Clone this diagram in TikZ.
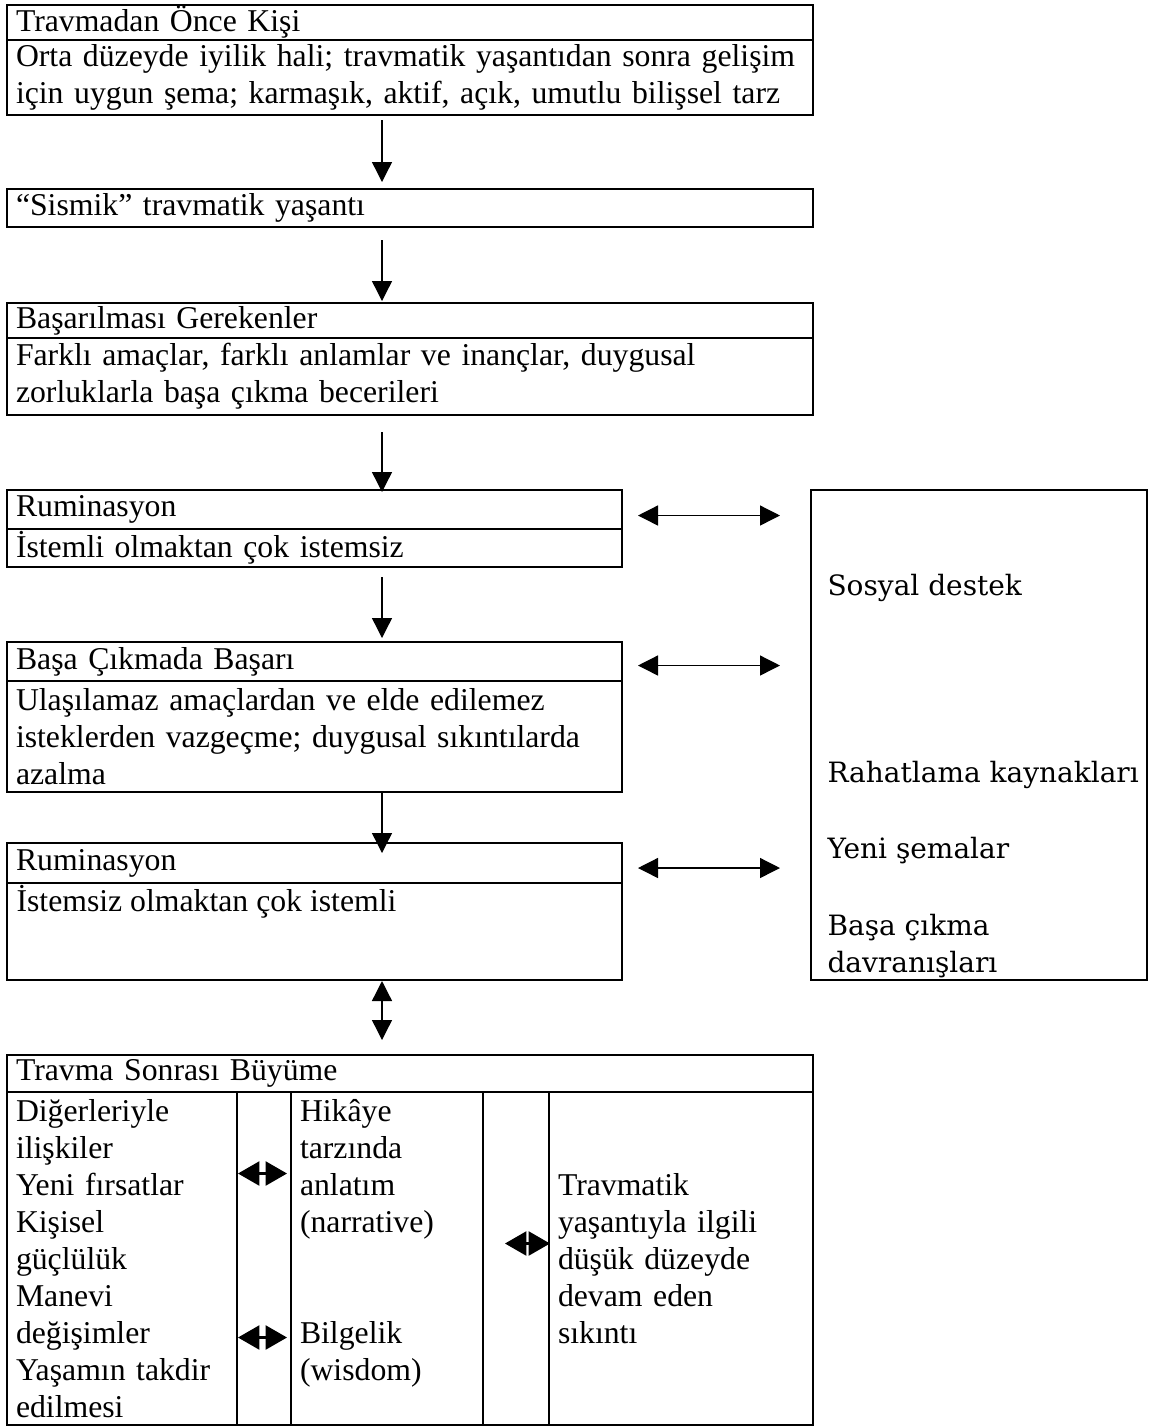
\documentclass[tikz,border=0pt]{standalone}
\usepackage{fontspec}
\setmainfont{Liberation Serif}
\newfontfamily\sidefont{DejaVu Serif}
\usetikzlibrary{arrows.meta,calc}

\newcommand{\pxu}{0.375pt}

\begin{document}
\begin{tikzpicture}[x=0.375pt,y=-0.375pt,
		font=\fontsize{11.9}{13.9}\selectfont,
		cell/.style={draw,line width=0.65pt,rectangle,anchor=north west,outer sep=0pt,
			inner xsep=9*\pxu,inner ysep=0pt,align=left},
		wide/.style={minimum width=806*\pxu,text width=788*\pxu},
		narrow/.style={minimum width=615*\pxu,text width=597*\pxu},
		flow/.style={-{Triangle[length=7.5pt,width=7.5pt]},line width=0.5pt},
		twoway/.style={{Triangle[length=7.5pt,width=7.5pt]}-{Triangle[length=7.5pt,width=7.5pt]},line width=0.5pt},
		stub/.style={{Triangle[length=8pt,width=9pt]}-{Triangle[length=8pt,width=9pt]},line width=0.8pt},
		sidetext/.style={anchor=west,inner sep=0pt,font=\sidefont\fontsize{10.5}{13}\selectfont}]
		
		\useasboundingbox (0,0) rectangle (1157,1427);
		\coordinate (axis) at (382,0);
		
		% main column
		\node[cell,wide,minimum height=35*\pxu] (pre) at (7,5) {Travmadan Önce Kişi};
		\node[cell,wide,minimum height=75*\pxu] (preb) at (pre.south west) {Orta düzeyde iyilik hali; travmatik yaşantıdan sonra gelişim\\için uygun şema; karmaşık, aktif, açık, umutlu bilişsel tarz};
		
		\node[cell,wide,minimum height=38*\pxu] (quake) at (7,189) {“Sismik” travmatik yaşantı};
		
		\node[cell,wide,minimum height=35*\pxu] (task) at (7,303) {Başarılması Gerekenler};
		\node[cell,wide,minimum height=77*\pxu] (taskb) at (task.south west) {Farklı amaçlar, farklı anlamlar ve inançlar, duygusal\\zorluklarla başa çıkma becerileri};
		
		\node[cell,narrow,minimum height=39*\pxu] (rum) at (7,490) {Ruminasyon};
		\node[cell,narrow,minimum height=38*\pxu] (rumb) at (rum.south west) {İstemli olmaktan çok istemsiz};
		
		\node[cell,narrow,minimum height=39*\pxu] (cope) at (7,642) {Başa Çıkmada Başarı};
		\node[cell,narrow,minimum height=111*\pxu] (copeb) at (cope.south west) {Ulaşılamaz amaçlardan ve elde edilemez\\isteklerden vazgeçme; duygusal sıkıntılarda\\azalma};
		
		\node[cell,narrow,minimum height=40*\pxu] (rumtwo) at (7,843) {Ruminasyon};
		\node[cell,narrow,minimum height=97*\pxu] (rumtwob) at (rumtwo.south west) {};
		\node[anchor=west,inner sep=0pt] (rumtwot) at ($(rumtwob.north west)+(9,19)$) {İstemsiz olmaktan çok istemli};
		
		% growth table
		\node[cell,wide,minimum height=37*\pxu] (growth) at (7,1055) {Travma Sonrası Büyüme};
		\node[cell,minimum width=230*\pxu,text width=212*\pxu,minimum height=333*\pxu] (c1) at (growth.south west) {Diğerleriyle\\ilişkiler\\Yeni fırsatlar\\Kişisel\\güçlülük\\Manevi\\değişimler\\Yaşamın takdir\\edilmesi};
		\node[cell,minimum width=54*\pxu,minimum height=333*\pxu] (c2) at (c1.north east) {};
		\node[cell,minimum width=192*\pxu,text width=174*\pxu,minimum height=333*\pxu] (c3) at (c2.north east) {Hikâye\\tarzında\\anlatım\\(narrative)\\\mbox{}\\\mbox{}\\Bilgelik\\(wisdom)\\\mbox{}};
		\node[cell,minimum width=66*\pxu,minimum height=333*\pxu] (c4) at (c3.north east) {};
		\node[cell,minimum width=264*\pxu,text width=246*\pxu,minimum height=333*\pxu] (c5) at (c4.north east) {Travmatik\\yaşantıyla ilgili\\düşük düzeyde\\devam eden\\sıkıntı};
		
		% resources
		\node[cell,minimum width=336*\pxu,minimum height=490*\pxu] (side) at (811,490) {};
		\node[sidetext] (social) at (827,588) {Sosyal destek};
		\node[sidetext] (relief) at (827,775) {Rahatlama kaynakları};
		\node[sidetext] (schema) at (827,851) {Yeni şemalar};
		\node[sidetext] (copeact) at (827,928) {Başa çıkma};
		\node[sidetext] (copeacttwo) at (827,965) {davranışları};
		
		% arrows
		\draw[flow] ($(preb.south -| axis)+(0,5)$) -- ($(quake.north -| axis)+(0,-7)$);
		\draw[flow] ($(quake.south -| axis)+(0,13)$) -- ($(task.north -| axis)+(0,-2)$);
		\draw[flow] ($(taskb.south -| axis)+(0,17)$) -- ($(rum.north -| axis)+(0,2)$);
		\draw[flow] ($(rumb.south -| axis)+(0,10)$) -- ($(cope.north -| axis)+(0,-4)$);
		\draw[flow] (copeb.south -| axis) -- ($(rumtwo.north -| axis)+(0,10)$);
		\draw[twoway] ($(rumtwob.south -| axis)+(0,1)$) -- ($(growth.north -| axis)+(0,-15)$);
		
		\draw[twoway] ($(rum.east)+(16,6)$) -- ($(rum.east -| side.west)+(-31,6)$);
		\draw[twoway] ($(cope.east)+(16,4)$) -- ($(cope.east -| side.west)+(-31,4)$);
		\draw[twoway] ($(rumtwo.east)+(16,5)$) -- ($(rumtwo.east -| side.west)+(-31,5)$);
		
		\draw[stub] ($(c1.east)+(1,-85)$) -- ($(c3.west)+(-4,-85)$);
		\draw[stub] ($(c1.east)+(1,79)$) -- ($(c3.west)+(-4,79)$);
		\draw[stub] ($(c3.east)+(22,-15)$) -- ($(c5.west)+(1,-15)$);
\end{tikzpicture}
\end{document}
